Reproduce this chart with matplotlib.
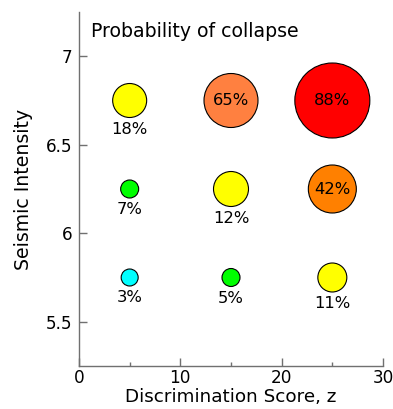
import matplotlib
matplotlib.use("Agg")
import matplotlib.pyplot as plt
from matplotlib.ticker import MultipleLocator

plt.rcParams["font.family"] = ["DejaVu Sans"]

# Discrimination score (z), seismic intensity and collapse probability (%)
score = [5, 15, 25, 5, 15, 25, 5, 15, 25]
intensity = [6.75, 6.75, 6.75, 6.25, 6.25, 6.25, 5.75, 5.75, 5.75]
prob = [18, 65, 88, 7, 12, 42, 3, 5, 11]

# Marker look per point: diameter in pixels and fill colour
diam_px = [34, 54, 75, 18, 35, 48, 17, 18, 29]
fill = ["#FFFF00", "#FF8040", "#FF0000", "#00FF00", "#FFFF00", "#FF8000",
        "#00FFFF", "#00FF00", "#FFFF00"]
inside = [False, True, True, False, False, True, False, False, False]

DPI = 100
fig = plt.figure(figsize=(3.93, 4.09), dpi=DPI)
ax = fig.add_axes([79 / 393, 43 / 409, 304 / 393, 354 / 409])

px2pt = 72 / DPI
sizes = [(d * px2pt) ** 2 for d in diam_px]
ax.scatter(score, intensity, s=sizes, c=fill, edgecolors="black",
           linewidths=0.8, zorder=3)

for x, y, p, d, inn in zip(score, intensity, prob, diam_px, inside):
    if inn:
        ax.text(x, y, f"{p}%", ha="center", va="center", fontsize=11.8,
                zorder=4)
    else:
        ax.annotate(f"{p}%", (x, y), xytext=(0, -(d / 2 + 12) * px2pt),
                    textcoords="offset points", ha="center", va="center",
                    fontsize=11.8, zorder=4)

ax.set_xlim(0, 30)
ax.set_ylim(5.25, 7.25)
ax.xaxis.set_major_locator(MultipleLocator(10))
ax.xaxis.set_minor_locator(MultipleLocator(5))
ax.set_yticks([5.5, 6, 6.5, 7])
ax.set_yticklabels(["5.5", "6", "6.5", "7"])

for side in ("top", "right"):
    ax.spines[side].set_visible(False)
for side in ("left", "bottom"):
    ax.spines[side].set_color("#707070")
    ax.spines[side].set_linewidth(1.0)

ax.tick_params(which="major", direction="in", length=6, width=1.0,
               color="#707070", labelsize=12.2, pad=5)
ax.tick_params(axis="x", which="major", pad=2.5)
ax.tick_params(which="minor", direction="in", length=3, width=1.0,
               color="#707070")
ax.tick_params(axis="y", which="minor", length=0)

ax.set_xlabel("Discrimination Score, z", fontsize=13.2, labelpad=0.5)
ax.set_ylabel("Seismic Intensity", fontsize=13.6, labelpad=9)
ax.text(0.04, 0.946, "Probability of collapse", transform=ax.transAxes,
        ha="left", va="center", fontsize=13.6)

fig.savefig("out.png", dpi=DPI)
